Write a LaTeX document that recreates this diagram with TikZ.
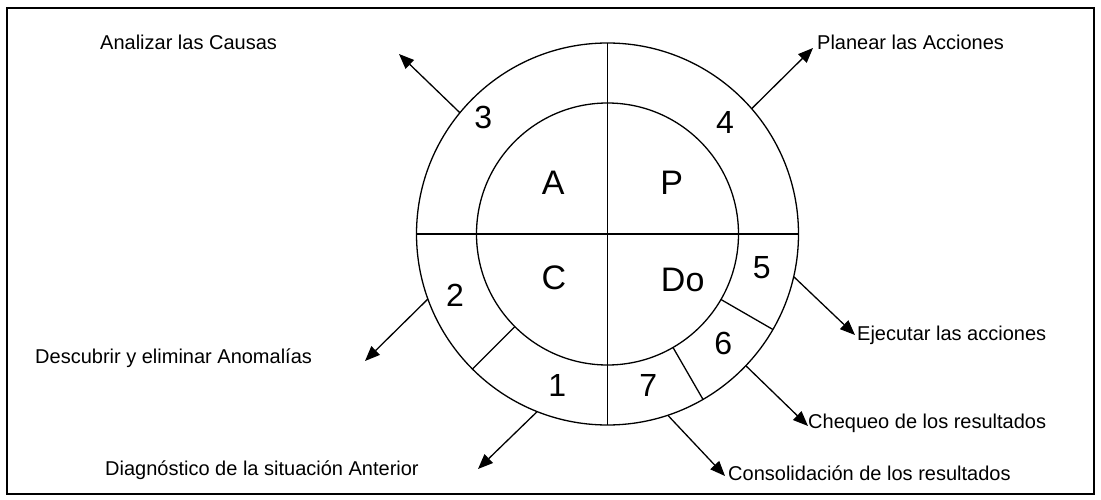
\documentclass[tikz,border=0pt]{standalone}
\usepackage{fontspec}
\setmainfont{Liberation Sans}
\usetikzlibrary{arrows.meta,calc}
\begin{document}
\begin{tikzpicture}[x=1pt,y=-1pt,
  ln/.style={line width=1.3pt,black},
  arr/.style={line width=1.3pt,-{Triangle[length=15pt,width=12pt]}},
  lbl/.style={anchor=base west,inner sep=0pt,font=\fontsize{20}{24}\selectfont},
  big/.style={inner sep=0pt,font=\fontsize{34}{40}\selectfont},
  num/.style={inner sep=0pt,font=\fontsize{32}{38}\selectfont}]
\useasboundingbox (0,0) rectangle (1101,500);
\draw[line width=2.5pt] (7,8) rectangle (1094,494);
\coordinate (O) at (607.5,234);
% circles
\draw[ln] (O) circle[radius=191pt];
\draw[ln] (O) circle[radius=131pt];
% cross
\coordinate (L) at ($(O)+(180:191pt)$);
\coordinate (R) at ($(O)+(0:191pt)$);
\coordinate (T) at ($(O)+(90:191pt)$);
\coordinate (B) at ($(O)+(-90:191pt)$);
\draw[ln] (L) -- (R);
\draw[ln] (T) -- (B);
% separators
\coordinate (pi) at ($(O)+(-135:131pt)$);
\coordinate (po) at ($(O)+(-135:191pt)$);
\coordinate (qi) at ($(O)+(-30:131pt)$);
\coordinate (qo) at ($(O)+(-30:191pt)$);
\coordinate (ri) at ($(O)+(-60:131pt)$);
\coordinate (ro) at ($(O)+(-60:191pt)$);
\draw[ln] (pi) -- (po);
\draw[ln] (qi) -- (qo);
\draw[ln] (ri) -- (ro);
% quadrant letters
\node[big] (qa) at (553.3,183.3) {A};
\node[big] (qp) at (671.7,182.7) {P};
\node[big] (qc) at (554,277.3) {C};
\node[big] (qd) at (682.7,280) {Do};
% numbers
\node[num] (n3) at (483.3,117.3) {3};
\node[num] (n4) at (725,122.7) {4};
\node[num] (n5) at (761.7,267.3) {5};
\node[num] (n2) at (455,295) {2};
\node[num] (n6) at (723.3,343.3) {6};
\node[num] (n1) at (557.3,385) {1};
\node[num] (n7) at (648.3,385) {7};
% labels
\node[lbl] (l3) at (100,50) {Analizar las Causas};
\node[lbl] (l4) at (817,50) {Planear las Acciones};
\node[lbl] (l5) at (857,340) {Ejecutar las acciones};
\node[lbl] (l2) at (35,363) {Descubrir y eliminar Anomalías};
\node[lbl] (l6) at (808,428) {Chequeo de los resultados};
\node[lbl] (l1) at (105,475) {Diagnóstico de la situación Anterior};
\node[lbl] (l7) at (728,480) {Consolidación de los resultados};
% arrow starts on outer circle
\coordinate (s3) at ($(O)+(140.6:191pt)$);
\coordinate (s4) at ($(O)+(41:191pt)$);
\coordinate (s5) at ($(O)+(-12.9:191pt)$);
\coordinate (s6) at ($(O)+(-43.6:191pt)$);
\coordinate (s7) at ($(O)+(-71.6:191pt)$);
\coordinate (s1) at ($(O)+(-111.6:191pt)$);
\coordinate (s2) at ($(O)+(-160.1:191pt)$);
% arrow tips
\coordinate (t3) at (399,54);
\coordinate (t4) at (813,48);
\coordinate (t5) at (855,335);
\coordinate (t6) at (808,426);
\coordinate (t7) at (725,476);
\coordinate (t1) at (478,469);
\coordinate (t2) at (365,361);
\foreach \k in {1,...,7}{\draw[arr] (s\k) -- (t\k);}
\end{tikzpicture}
\end{document}
